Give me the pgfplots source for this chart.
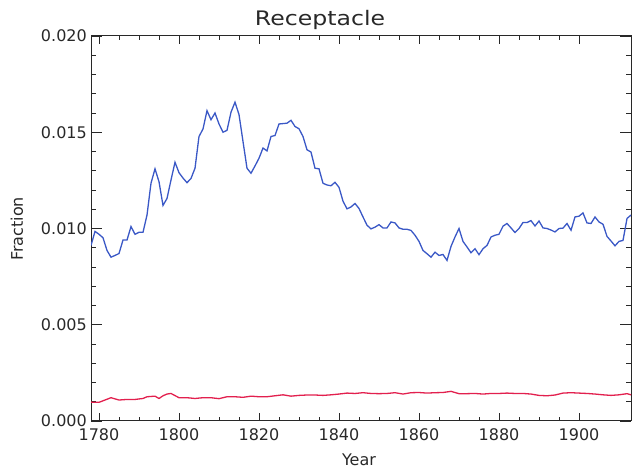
\documentclass[border=0pt]{standalone}
\usepackage{fontspec}
\setmainfont{DejaVu Sans}
\newfontfamily\titlefont{DejaVu Sans}[FakeStretch=1.18]
\usepackage{pgfplots}
\usepackage{pgfplotstable}
\pgfplotsset{compat=1.18}

\definecolor{idlblue}{RGB}{58,88,198}
\definecolor{idlred}{RGB}{226,32,78}
\definecolor{axgray}{RGB}{40,40,40}

% yearly fraction, upper (blue) series
\pgfplotstableread{
year frac
1778 0.00912
1779 0.00985
1780 0.00970
1781 0.00952
1782 0.00886
1783 0.00851
1784 0.00860
1785 0.00870
1786 0.00940
1787 0.00940
1788 0.01010
1789 0.00970
1790 0.00980
1791 0.00980
1792 0.01070
1793 0.01235
1794 0.01310
1795 0.01243
1796 0.01120
1797 0.01156
1798 0.01252
1799 0.01344
1800 0.01290
1801 0.01262
1802 0.01238
1803 0.01260
1804 0.01313
1805 0.01478
1806 0.01517
1807 0.01612
1808 0.01565
1809 0.01600
1810 0.01543
1811 0.01500
1812 0.01510
1813 0.01604
1814 0.01656
1815 0.01592
1816 0.01452
1817 0.01313
1818 0.01287
1819 0.01325
1820 0.01365
1821 0.01418
1822 0.01403
1823 0.01478
1824 0.01483
1825 0.01543
1826 0.01545
1827 0.01547
1828 0.01562
1829 0.01530
1830 0.01518
1831 0.01478
1832 0.01409
1833 0.01397
1834 0.01313
1835 0.01310
1836 0.01235
1837 0.01226
1838 0.01222
1839 0.01240
1840 0.01214
1841 0.01142
1842 0.01102
1843 0.01112
1844 0.01130
1845 0.01104
1846 0.01060
1847 0.01017
1848 0.00998
1849 0.01007
1850 0.01020
1851 0.01003
1852 0.01003
1853 0.01034
1854 0.01029
1855 0.01003
1856 0.00996
1857 0.00996
1858 0.00990
1859 0.00965
1860 0.00933
1861 0.00886
1862 0.00869
1863 0.00851
1864 0.00877
1865 0.00860
1866 0.00865
1867 0.00834
1868 0.00907
1869 0.00956
1870 0.01000
1871 0.00933
1872 0.00904
1873 0.00874
1874 0.00895
1875 0.00864
1876 0.00895
1877 0.00912
1878 0.00956
1879 0.00965
1880 0.00970
1881 0.01012
1882 0.01026
1883 0.01003
1884 0.00979
1885 0.01000
1886 0.01031
1887 0.01031
1888 0.01041
1889 0.01013
1890 0.01039
1891 0.01003
1892 0.01000
1893 0.00992
1894 0.00982
1895 0.01000
1896 0.01002
1897 0.01026
1898 0.00991
1899 0.01060
1900 0.01064
1901 0.01081
1902 0.01029
1903 0.01026
1904 0.01060
1905 0.01034
1906 0.01022
1907 0.00959
1908 0.00935
1909 0.00910
1910 0.00933
1911 0.00938
1912 0.01052
1913 0.01070
}\bluedata

% lower (red) series
\pgfplotstableread{
year frac
1778 0.00098
1780 0.00097
1781 0.00105
1783 0.00121
1785 0.00109
1787 0.00112
1789 0.00112
1791 0.00117
1792 0.00126
1794 0.00129
1795 0.00117
1796 0.00131
1797 0.00140
1798 0.00143
1800 0.00121
1802 0.00121
1804 0.00117
1806 0.00121
1808 0.00121
1810 0.00116
1812 0.00126
1814 0.00126
1816 0.00123
1818 0.00129
1820 0.00126
1822 0.00126
1824 0.00131
1826 0.00136
1828 0.00129
1830 0.00133
1832 0.00135
1834 0.00135
1836 0.00133
1838 0.00136
1840 0.00140
1842 0.00145
1844 0.00143
1846 0.00147
1848 0.00143
1850 0.00142
1852 0.00143
1854 0.00147
1856 0.00140
1858 0.00147
1860 0.00148
1862 0.00145
1864 0.00147
1866 0.00148
1868 0.00154
1870 0.00142
1872 0.00142
1874 0.00143
1876 0.00140
1878 0.00143
1880 0.00143
1882 0.00145
1884 0.00143
1886 0.00143
1888 0.00140
1890 0.00133
1892 0.00131
1894 0.00135
1896 0.00145
1898 0.00147
1900 0.00145
1902 0.00143
1904 0.00140
1906 0.00136
1908 0.00133
1910 0.00136
1912 0.00142
1913 0.00136
}\reddata

\begin{document}
\begin{tikzpicture}
\useasboundingbox (0,0) rectangle (632bp,471bp);
\begin{axis}[
    at={(91bp,50bp)}, anchor=south west,
    scale only axis, width=540bp, height=385bp,
    xmin=1778, xmax=1913,
    ymin=0, ymax=0.020,
    xtick={1780,1800,...,1900},
    ytick={0,0.005,0.010,0.015,0.020},
    minor x tick num=3,
    minor y tick num=4,
    tick align=inside,
    tick pos=both,
    xtick style={/pgfplots/major tick length=7.7bp, /pgfplots/minor tick length=3.9bp},
    ytick style={/pgfplots/major tick length=10.8bp, /pgfplots/minor tick length=5.4bp},
    every tick/.append style={axgray, line width=0.9bp},
    axis line style={axgray, line width=1bp},
    scaled y ticks=false,
    /pgf/number format/assume math mode=true,
    y tick label style={/pgf/number format/.cd, fixed, fixed zerofill, precision=3, /tikz/.cd},
    x tick label style={/pgf/number format/1000 sep={}},
    tick label style={font=\fontsize{16bp}{19bp}\selectfont, text=axgray},
    xticklabel style={inner sep=0pt, yshift=-7bp},
    yticklabel style={inner sep=0pt, xshift=-4bp},
]
\addplot[idlblue, line width=1.3bp] table[x=year, y=frac] {\bluedata};
\addplot[idlred, line width=1.3bp] table[x=year, y=frac] {\reddata};
\end{axis}
\node[font=\titlefont\fontsize{20bp}{24bp}\selectfont, text=axgray] at (320bp,451bp) {Receptacle};
\node[font=\fontsize{16bp}{19bp}\selectfont, text=axgray] at (359bp,11bp) {Year};
\node[font=\fontsize{16bp}{19bp}\selectfont, text=axgray, rotate=90] at (17bp,242bp) {Fraction};
\end{tikzpicture}
\end{document}
